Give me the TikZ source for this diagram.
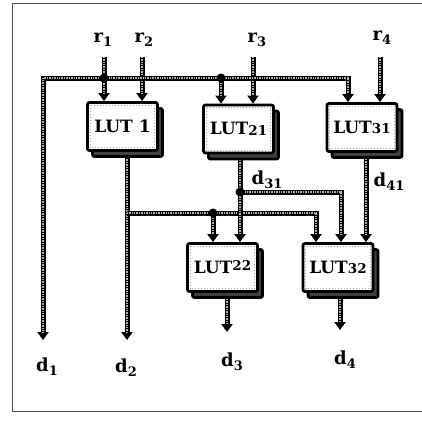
\documentclass[tikz,border=0pt]{standalone}
\usepackage{fontspec}
\setmainfont{DejaVu Serif}
\usetikzlibrary{arrows.meta,shadows,backgrounds,calc}
\newcommand\lsub[1]{\raisebox{-4pt}{\fontsize{13}{13}\selectfont #1}}
\newcommand\dsm[2]{\raisebox{#1}{\fontsize{13.5}{13.5}\selectfont #2}}
\begin{document}
\begin{tikzpicture}[x=1pt,y=-1pt,
  wire/.style={draw=black,line width=5pt,line join=miter,
    postaction={draw=gray!60,line width=1.3pt,dash pattern=on 1pt off 0.7pt}},
  awire/.style={draw=black,line width=5pt,line join=miter,-{Triangle[length=8pt,width=11pt]},
    postaction={draw=gray!60,line width=1.3pt,-,dash pattern=on 1pt off 0.7pt,shorten >=8pt}},
  lut/.style={draw=black,line width=2.8pt,fill=white,minimum width=70pt,minimum height=48pt,
    rounded corners=2pt,inner sep=0pt,font=\bfseries\fontsize{17}{17}\selectfont,
    drop shadow={shadow xshift=5pt,shadow yshift=-6pt,fill=black!75,draw=black,line width=2.8pt,opacity=1}},
  lbl/.style={inner sep=0pt,font=\bfseries\fontsize{18}{18}\selectfont},
  jdot/.style={circle,fill=black,inner sep=0pt,minimum size=9pt}
]
\useasboundingbox (0,0) rectangle (422,421);

% boxes
\node[lut] (L1)  at (122.5,126.5) {LUT 1};
\node[lut] (L21) at (238.5,129)   {LUT\dsm{-1.5pt}{21}};
\node[lut] (L31) at (362,127.5)   {LUT\dsm{-0.5pt}{31}};
\node[lut] (L22) at (222.5,267.5) {LUT\dsm{3pt}{22}};
\node[lut] (L32) at (338,267.5)   {LUT\dsm{0.5pt}{32}};
\foreach \n in {L1,L21,L31,L22,L32}
  \draw[gray!70,line width=1pt,dotted] ($(\n.north west)+(4,4)$) rectangle ($(\n.south east)+(-4,-4)$);

% labels
\node[lbl] (r1) at (103,40) {r\lsub{1}};
\node[lbl] (r2) at (144,40) {r\lsub{2}};
\node[lbl] (r3) at (257,40) {r\lsub{3}};
\node[lbl] (r4) at (382,38) {r\lsub{4}};
\node[lbl] (d1) at (47,367) {d\lsub{1}};
\node[lbl] (d2) at (126,368) {d\lsub{2}};
\node[lbl] (d3) at (232,362) {d\lsub{3}};
\node[lbl] (d4) at (345,360) {d\lsub{4}};
\node[lbl] (d31) at (267,180) {d\lsub{31}};
\node[lbl] (d41) at (389,182) {d\lsub{41}};

\begin{pgfonlayer}{background}
\draw[black!70,line width=0.7pt] (422,3) -- (12,3) -- (12,411) -- (422,411);
% coordinates
\coordinate (r1s) at (104,57);
\coordinate (r2s) at (142,57);
\coordinate (r3s) at (253,57);
\coordinate (r4s) at (380,57);
\coordinate (j1) at (104,78);
\coordinate (j2) at (221,78);
\coordinate (bL) at (43,78);
\coordinate (bR) at (348,78);
\coordinate (d1t) at (43,340);
\coordinate (o1) at (127,150);
\coordinate (d2t) at (127,340);
\coordinate (j3) at (127,213);
\coordinate (j4) at (213,213);
\coordinate (c32a) at (316,213);
\coordinate (o21) at (240,153);
\coordinate (j5) at (240,192);
\coordinate (c32b) at (341,192);
\coordinate (o31) at (366,152);
\coordinate (o22) at (227,292);
\coordinate (d3t) at (227,332);
\coordinate (o32) at (340,292);
\coordinate (d4t) at (340,330);

% inputs
\draw[awire] (r1s) -- (r1s |- L1.north);
\draw[awire] (r2s) -- (r2s |- L1.north);
\draw[awire] (r3s) -- (r3s |- L21.north);
\draw[awire] (r4s) -- (r4s |- L31.north);
% top bus
\draw[awire] (j1) -- (bL) -- (d1t);
\draw[awire] (j1) -- (bR) -- (bR |- L31.north);
\draw[awire] (j2) -- (j2 |- L21.north);
% LUT1 output
\draw[awire] (o1) -- (d2t);
\draw[awire] (j3) -- (c32a) -- (c32a |- L32.north);
\draw[awire] (j4) -- (j4 |- L22.north);
% LUT21 output
\draw[awire] (o21) -- (o21 |- L22.north);
\draw[awire] (j5) -- (c32b) -- (c32b |- L32.north);
% LUT31 output
\draw[awire] (o31) -- (o31 |- L32.north);
% outputs
\draw[awire] (o22) -- (d3t);
\draw[awire] (o32) -- (d4t);
% junction dots
\node[jdot] (k1) at (j1) {};
\node[jdot] (k2) at (j2) {};
\node[jdot] (k4) at (j4) {};
\node[jdot] (k5) at (j5) {};
\end{pgfonlayer}
\end{tikzpicture}
\end{document}
